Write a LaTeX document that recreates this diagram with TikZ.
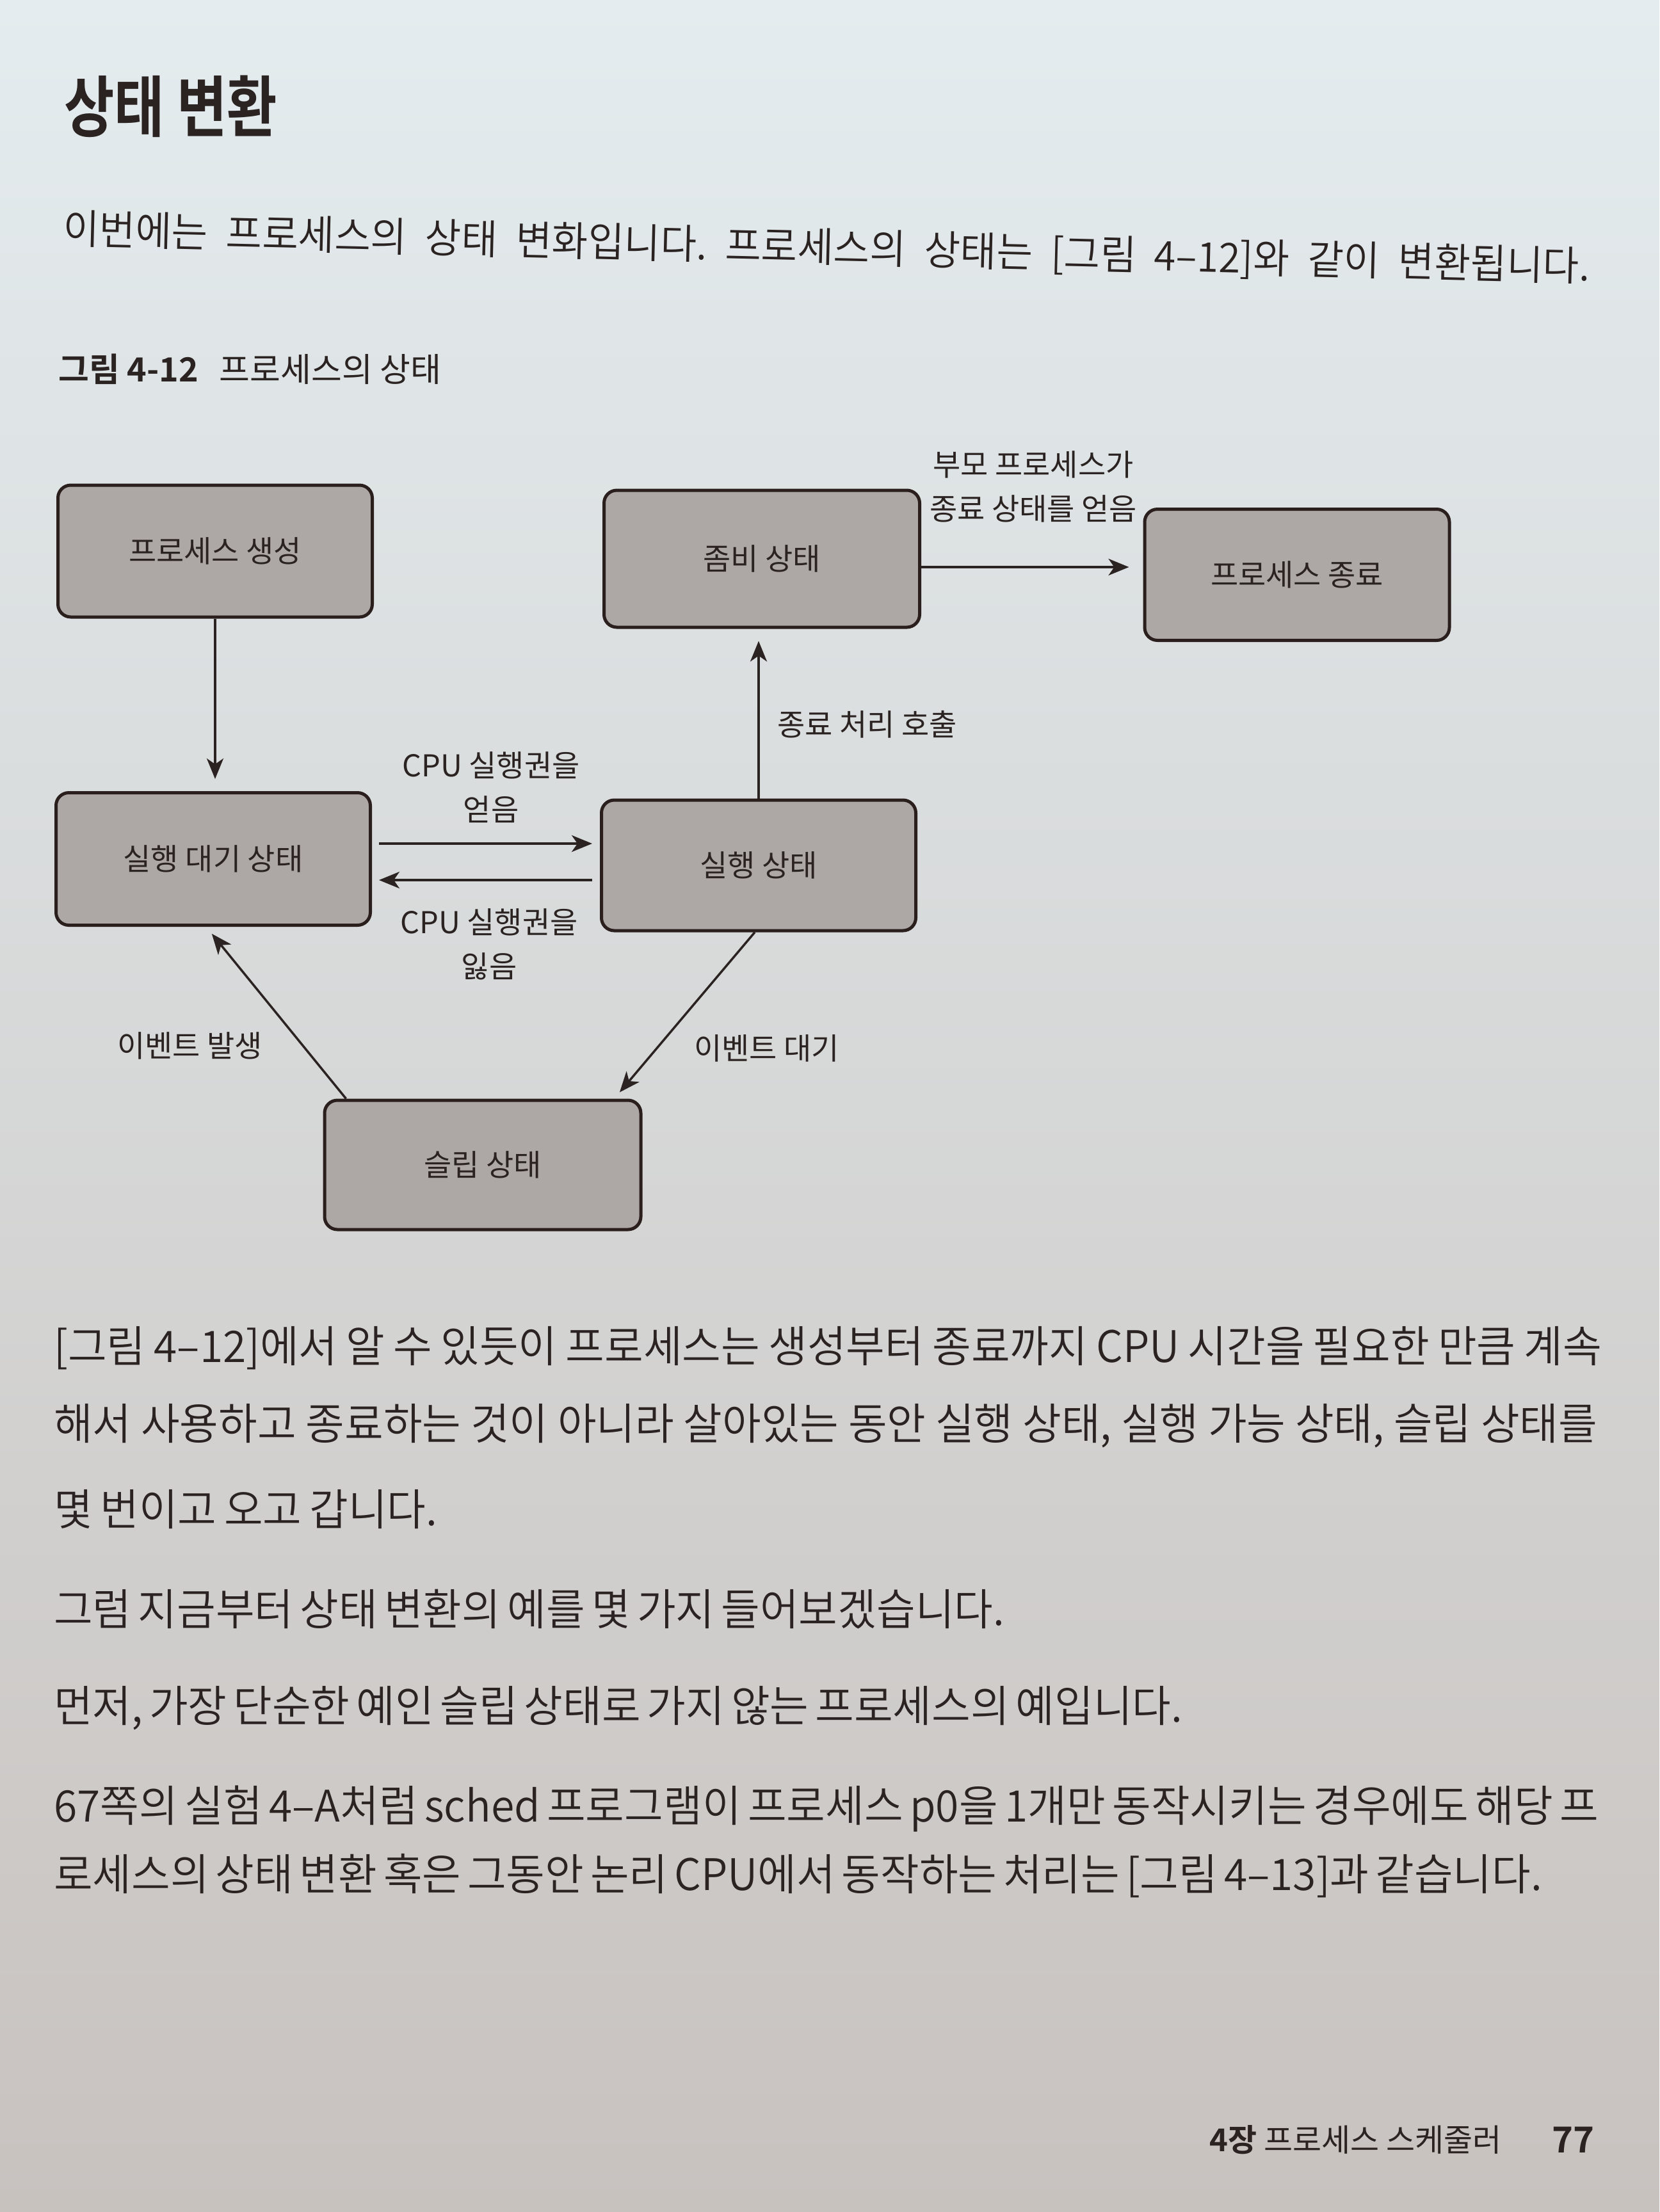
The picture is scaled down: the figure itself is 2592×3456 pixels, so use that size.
\documentclass[tikz,border=0pt]{standalone}
\usepackage{fontspec}
\usetikzlibrary{arrows.meta,calc}
\newfontfamily\kr{Noto Sans CJK KR}
\IfFontExistsTF{Noto Sans CJK KR DemiLight}{%
  \newfontfamily\krbody{Noto Sans CJK KR DemiLight}[FakeStretch=0.97]%
  \newfontfamily\krintro{Noto Sans CJK KR DemiLight}[FakeStretch=0.96]%
}{%
  \newfontfamily\krbody{Noto Sans CJK KR}[FakeStretch=0.97]%
  \newfontfamily\krintro{Noto Sans CJK KR}[FakeStretch=0.96]%
}
\IfFontExistsTF{Noto Sans CJK KR Bold}{%
  \newfontfamily\krb{Noto Sans CJK KR Bold}%
  \newfontfamily\krtitle{Noto Sans CJK KR Bold}[FakeStretch=0.82]%
}{%
  \newfontfamily\krb{Noto Sans CJK KR}[FakeBold=2]%
  \newfontfamily\krtitle{Noto Sans CJK KR}[FakeBold=3,FakeStretch=0.82]%
}
\frenchspacing
\definecolor{ink}{HTML}{2B2321}
\definecolor{boxline}{HTML}{2A1F1D}
\definecolor{boxfill}{HTML}{ADA8A6}
\definecolor{bgtop}{HTML}{E4ECEF}
\definecolor{bgmid}{HTML}{D7DADB}
\definecolor{bgbot}{HTML}{C8C2BF}
\tikzset{
  statebox/.style={draw=boxline, line width=5pt, fill=boxfill, rounded corners=20pt,
    text=ink, font=\kr\fontsize{47}{54}\selectfont, inner sep=0pt},
  lbl/.style={text=ink, font=\kr\fontsize{47}{69}\selectfont, align=center, inner sep=0pt},
  bodytxt/.style={anchor=west, inner sep=0pt, text=ink, font=\krbody\fontsize{68}{80}\selectfont\frenchspacing},
  arr/.style={draw=ink, line width=3.5pt, -{Stealth[length=32pt,width=26pt,inset=9pt]}},
}
\begin{document}
\begin{tikzpicture}[x=1pt,y=-1pt]
\useasboundingbox (0,0) rectangle (2592,3456);
\shade[top color=bgtop, middle color=bgmid, bottom color=bgbot] (0,0) rectangle (2592,3456);

% title and intro
\node[anchor=west, inner sep=0pt, text=ink, font=\krtitle\fontsize{104}{118}\selectfont] (title) at (100,166) {상태 변환};
\node[bodytxt, anchor=center, rotate=-1.4, font=\krintro\fontsize{64}{76}\selectfont\frenchspacing] (p0) at (1291,389)
  {\makebox[2385pt][s]{이번에는 프로세스의 상태 변화입니다. 프로세스의 상태는 [그림 4–12]와 같이 변환됩니다.}};
\node[anchor=west, inner sep=0pt, text=ink, font=\kr\fontsize{52}{60}\selectfont] (cap) at (91,577)
  {{\krb 그림 4-12}\hspace{33pt}프로세스의 상태};

% state boxes
\node[statebox, minimum width=491pt, minimum height=206pt] (gen) at (336,861) {프로세스 생성};
\node[statebox, minimum width=491pt, minimum height=207pt] (ready) at (333,1342) {실행 대기 상태};
\node[statebox, minimum width=493pt, minimum height=214pt] (zombie) at (1190,873) {좀비 상태};
\node[statebox, minimum width=476pt, minimum height=205pt] (term) at (2026,898) {프로세스 종료};
\node[statebox, minimum width=491pt, minimum height=204pt] (run) at (1185,1352) {실행 상태};
\node[statebox, minimum width=494pt, minimum height=202pt] (sleep) at (754,1820) {슬립 상태};

% connectors
\draw[arr, shorten >=19pt] (gen.south) -- (gen.south |- ready.north);
\draw[arr, shorten <=11pt, shorten >=12pt] ([yshift=24pt]ready.east) -- ([yshift=24pt]ready.east -| run.west);
\draw[arr, shorten <=12pt, shorten >=11pt] ([yshift=-33pt]ready.east -| run.west) -- ([yshift=-33pt]ready.east);
\draw[arr, shorten >=19pt] (run.north) -- (run.north |- zombie.south);
\draw[arr, shorten >=22pt] ([yshift=-13pt]zombie.east) -- ([yshift=-13pt]zombie.east -| term.west);
\draw[arr, shorten >=13pt] ([xshift=-6pt]run.south) -- ([xshift=-44pt]sleep.north east);
\draw[arr, shorten >=14pt] ([xshift=36pt]sleep.north west) -- ([xshift=-11pt]ready.south);

% connector labels
\node[lbl] (lget) at (767,1230) {CPU 실행권을\\얻음};
\node[lbl] (llose) at (764,1475) {CPU 실행권을\\잃음};
\node[lbl, anchor=west] (lexit) at (1214,1132) {종료 처리 호출};
\node[lbl] (lparent) at (1614,760) {부모 프로세스가\\종료 상태를 얻음};
\node[lbl, anchor=west] (lwait) at (1084,1638) {이벤트 대기};
\node[lbl, anchor=west] (loccur) at (183,1634) {이벤트 발생};

% body text
\node[bodytxt] (pA) at (84,2106) {\makebox[2418pt][s]{[그림 4–12]에서 알 수 있듯이 프로세스는 생성부터 종료까지 CPU 시간을 필요한 만큼 계속}};
\node[bodytxt] (pB) at (84,2228) {\makebox[2411pt][s]{해서 사용하고 종료하는 것이 아니라 살아있는 동안 실행 상태, 실행 가능 상태, 슬립 상태를}};
\node[bodytxt] (pC) at (84,2358) {\makebox[599pt][s]{몇 번이고 오고 갑니다.}};
\node[bodytxt] (pD) at (84,2514) {\makebox[1485pt][s]{그럼 지금부터 상태 변환의 예를 몇 가지 들어보겠습니다.}};
\node[bodytxt] (pE) at (84,2669) {\makebox[1763pt][s]{먼저, 가장 단순한 예인 슬립 상태로 가지 않는 프로세스의 예입니다.}};
\node[bodytxt] (pF) at (84,2826) {\makebox[2413pt][s]{67쪽의 실험 4–A처럼 sched 프로그램이 프로세스 p0을 1개만 동작시키는 경우에도 해당 프}};
\node[bodytxt] (pG) at (84,2931) {\makebox[2307pt][s]{로세스의 상태 변환 혹은 그동안 논리 CPU에서 동작하는 처리는 [그림 4–13]과 같습니다.}};

% footer
\node[anchor=west, inner sep=0pt, text=ink, font=\kr\fontsize{49}{58}\selectfont] (foot) at (1889,3343) {{\krb 4장} 프로세스 스케줄러};
\node[anchor=west, inner sep=0pt, text=ink, font=\krb\fontsize{56}{64}\selectfont] (page) at (2424,3343) {77};
\end{tikzpicture}
\end{document}
